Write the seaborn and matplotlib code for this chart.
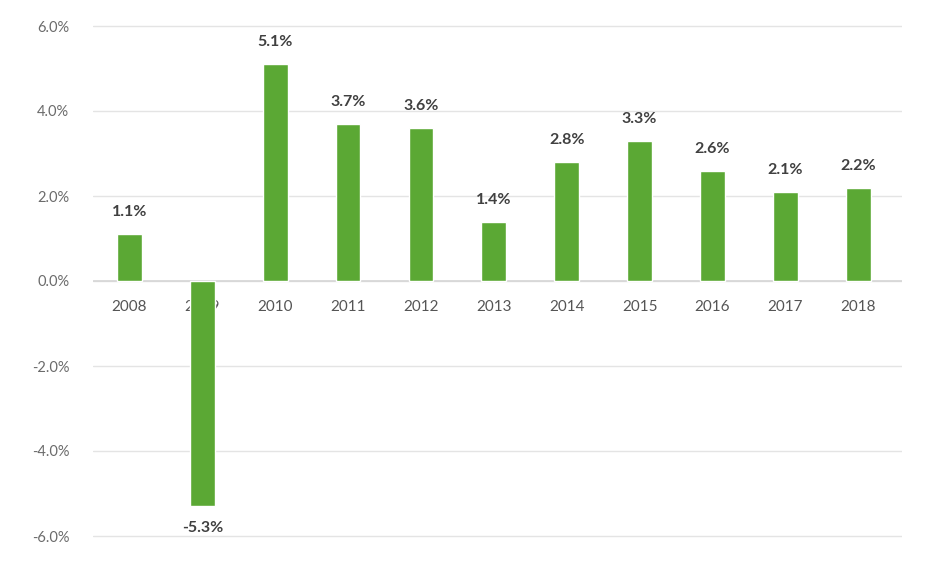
import matplotlib
matplotlib.use("Agg")
import matplotlib.pyplot as plt
import seaborn as sns
import pandas as pd

years = ["2008", "2009", "2010", "2011", "2012", "2013", "2014", "2015", "2016", "2017", "2018"]
growth = [1.1, -5.3, 5.1, 3.7, 3.6, 1.4, 2.8, 3.3, 2.6, 2.1, 2.2]
y_ticks = [-6.0, -4.0, -2.0, 0.0, 2.0, 4.0, 6.0]

df = pd.DataFrame({"year": years, "growth": growth})

sns.set_theme(style="white")
plt.rcParams["font.family"] = ["Lato", "DejaVu Sans"]

fig = plt.figure(figsize=(9.51, 5.81), dpi=100)
ax = fig.add_axes([93 / 951, 1 - 553 / 581, (902 - 93) / 951, 544 / 581])

bar_color = "#5BA834"
sns.barplot(data=df, x="year", y="growth", color=bar_color, width=0.34,
            saturation=1, ax=ax, zorder=3)

ax.set_ylim(-6.4, 6.4)
ax.set_xlim(-0.5, 10.6)
ax.set_yticks(y_ticks)
ax.set_yticklabels([f"{t:.1f}%" for t in y_ticks])
ax.yaxis.grid(True, color="#E4E4E4", linewidth=1.0, zorder=0)
ax.axhline(0, color="#D6D6D6", linewidth=1.2, zorder=2)

for side in ["top", "right", "bottom", "left"]:
    ax.spines[side].set_visible(False)

ax.set_xlabel("")
ax.set_ylabel("")
ax.tick_params(axis="y", labelsize=10.5, labelcolor="#6B6B6B", length=0, pad=17)
ax.tick_params(axis="x", length=0)
# year labels sit just under the zero line, behind the bars
ax.set_xticks(range(len(years)))
ax.set_xticklabels([])
for i, yr in enumerate(years):
    ax.text(i, -0.62, yr, ha="center", va="center", fontsize=11,
            color="#555555", zorder=2.5)

for i, v in enumerate(growth):
    if v >= 0:
        ax.text(i, v + 0.35, f"{v:.1f}%", ha="center", va="bottom",
                fontsize=11.5, fontweight="bold", color="#404040", zorder=4)
    else:
        ax.text(i, v - 0.35, f"{v:.1f}%", ha="center", va="top",
                fontsize=11.5, fontweight="bold", color="#404040", zorder=4)

fig.savefig("out.png", dpi=100, facecolor="white")
